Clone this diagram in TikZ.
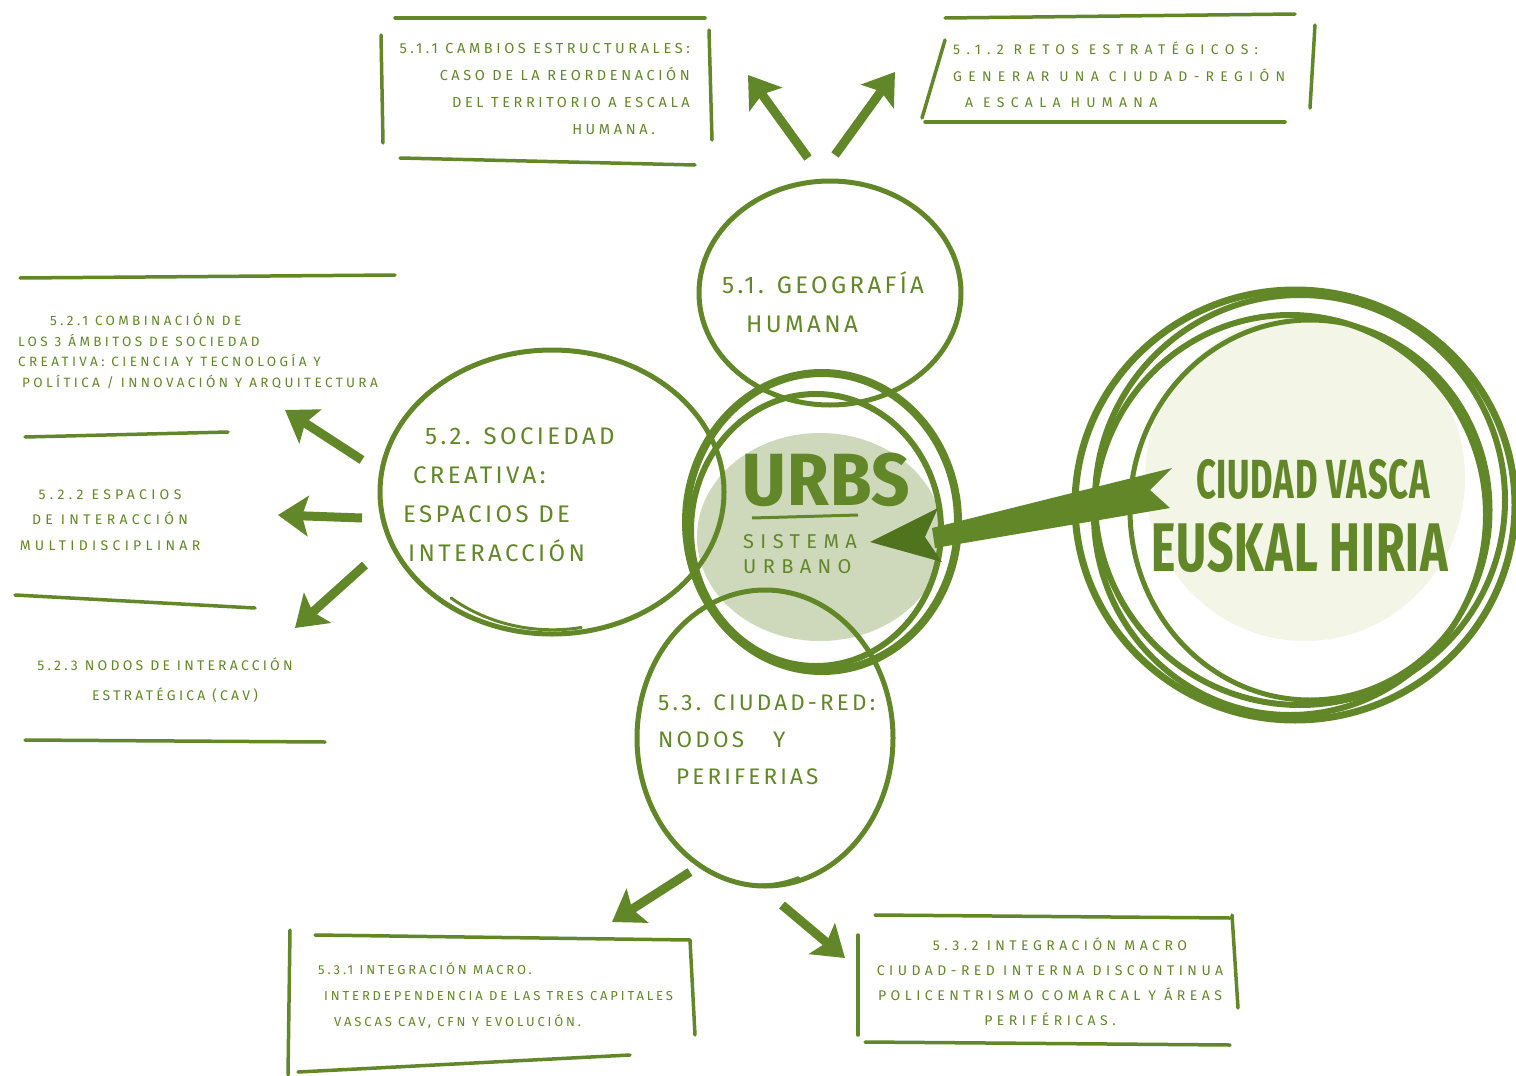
\documentclass[tikz,border=0pt]{standalone}
\usepackage{fontspec}
\setmainfont{Fira Sans}
\newfontfamily\handfont[LetterSpace=22]{Fira Sans}
\newfontfamily\handA[LetterSpace=25]{Fira Sans}
\newfontfamily\handB[LetterSpace=45]{Fira Sans}
\newfontfamily\handC[LetterSpace=31]{Fira Sans}
\newfontfamily\handD[LetterSpace=23]{Fira Sans}
\newfontfamily\handE[LetterSpace=32]{Fira Sans}
\newfontfamily\midfont[LetterSpace=14]{Fira Sans}
\newfontfamily\bigfont[LetterSpace=2]{Fira Sans Condensed}
\usetikzlibrary{arrows.meta,shapes.geometric}
\definecolor{gr}{RGB}{98,135,40}
\definecolor{grd}{RGB}{80,115,30}
\definecolor{grfill}{RGB}{206,217,188}
\definecolor{grpale}{RGB}{243,246,230}
\begin{document}
\begin{tikzpicture}[x=1pt,y=-1pt,
  every node/.style={text=gr},
  small/.style={font=\handfont\fontsize{13.5}{27}\selectfont, inner sep=0pt},
  mid/.style={font=\midfont\fontsize{24}{39}\selectfont, inner sep=0pt},
  ring/.style={draw=gr, line width=5pt, ellipse, inner sep=0pt},
  sketch/.style={draw=gr, line width=3.5pt, line cap=round},
  bigarrow/.style={draw=gr, line width=9pt, -{Stealth[length=30pt,width=40pt,inset=6pt]}},
]
\useasboundingbox (0,0) rectangle (1516,1076);
\fill[white] (0,0) rectangle (1516,1076);

% fills
\fill[grfill] (820,537) ellipse [x radius=123, y radius=104];
\fill[grpale] (1305,478) ellipse [x radius=160, y radius=163];

% circles
\node[ring, minimum width=262pt, minimum height=224pt] (c51) at (830,293) {};
\node[ring, minimum width=344pt, minimum height=284pt] (c52) at (552,492) {};
\draw[gr, line width=3pt, line cap=round] (451,598) arc[start angle=128, end angle=80, x radius=165, y radius=150];
\node[ring, minimum width=256pt, minimum height=296pt] (c53) at (765,738) {};
\draw[gr, line width=3pt, line cap=round] (717,876) arc[start angle=110, end angle=72, x radius=125, y radius=150];
\node[ring, line width=8pt, minimum width=272pt, minimum height=298pt] (urbs) at (822,522) {};
\draw[gr, line width=6pt] (816,530) ellipse [x radius=125, y radius=136];
\node[ring, line width=7pt, minimum width=440pt, minimum height=430pt] (eus) at (1295,505) {};
\draw[gr, line width=6pt] (1300,500) ellipse [x radius=205, y radius=205];
\draw[gr, line width=6pt] (1290,515) ellipse [x radius=196, y radius=200];
\draw[gr, line width=5pt] (1310,510) ellipse [x radius=180, y radius=190];

% circle texts
\node[mid, align=left, anchor=west] (t51) at (722,302) {5.1. GEOGRAFÍA\\\hspace*{24pt}HUMANA};
\node[mid, align=left, anchor=west] (t52) at (403,495) {\hspace*{22pt}5.2. SOCIEDAD\\\hspace*{10pt}CREATIVA:\\ESPACIOS DE\\\hspace*{5pt}INTERACCIÓN};
\node[mid, font=\midfont\fontsize{22.5}{37}\selectfont, align=left, anchor=west] (t53) at (658,740) {5.3. CIUDAD-RED:\\NODOS \hspace*{20pt}Y\\\hspace*{18pt}PERIFERIAS};
\node[font=\bigfont\bfseries\fontsize{74}{74}\selectfont, inner sep=0pt] (turbs) at (826,480) {URBS};
\coordinate (ul1) at (752,518);
\coordinate (ul2) at (858,515);
\draw[gr, line width=3pt] (ul1) -- (ul2);
\node[font=\handE\fontsize{20}{25}\selectfont, align=left, anchor=west, inner sep=0pt] (tsis) at (743,554) {SISTEMA\\URBANO};
\node[font=\bigfont\bfseries\fontsize{38}{38}\selectfont, inner sep=0pt] (tcv) at (1313,479) {\scalebox{1}[1.45]{CIUDAD VASCA}};
\node[font=\bigfont\bfseries\fontsize{51}{51}\selectfont, inner sep=0pt] (teh) at (1300,548) {\scalebox{1}[1.35]{EUSKAL HIRIA}};

% box 5.1.1
\draw[sketch] (395,18) -- (705,18);
\draw[sketch] (381,35) -- (383,143);
\draw[sketch] (709,30) -- (712,140);
\draw[sketch] (400,158) -- (695,165);
\node[small, font=\handA\fontsize{14.5}{27}\selectfont, align=right, anchor=east] (b511) at (690,89) {5.1.1 CAMBIOS ESTRUCTURALES:\\CASO DE LA REORDENACIÓN\\DEL TERRITORIO A ESCALA\\HUMANA.\hspace*{35pt}};

% box 5.1.2
\draw[sketch] (945,18) -- (1295,14);
\draw[sketch] (945,40) -- (922,118);
\draw[sketch] (1315,25) -- (1310,108);
\draw[sketch] (925,122) -- (1285,122);
\node[small, font=\handB\fontsize{14}{26.5}\selectfont, align=left, anchor=west] (b512) at (953,75) {5.1.2 RETOS ESTRATÉGICOS:\\GENERAR UNA CIUDAD-REGIÓN\\\hspace*{12pt}A ESCALA HUMANA};

% 5.2.1
\draw[sketch] (20,278) -- (395,275);
\draw[sketch] (25,437) -- (228,432);
\node[small, font=\handA\fontsize{13.5}{20.5}\selectfont, align=left, anchor=west] (b521) at (18,351) {\hspace*{32pt}5.2.1 COMBINACIÓN DE\\LOS 3 ÁMBITOS DE SOCIEDAD\\CREATIVA: CIENCIA Y TECNOLOGÍA Y\\\hspace*{4pt}POLÍTICA / INNOVACIÓN Y ARQUITECTURA};

% 5.2.2
\draw[sketch] (15,595) -- (255,608);
\node[small, font=\handC\fontsize{14}{25.5}\selectfont, align=center] (b522) at (110,520) {5.2.2 ESPACIOS\\DE INTERACCIÓN\\MULTIDISCIPLINAR};

% 5.2.3
\draw[sketch] (25,740) -- (325,742);
\node[small, font=\handD\fontsize{14}{30}\selectfont, align=center] (b523) at (165,680) {5.2.3 NODOS DE INTERACCIÓN\\\hspace*{20pt}ESTRATÉGICA (CAV)};

% box 5.3.1
\draw[sketch] (315,935) -- (690,940);
\draw[sketch] (290,930) -- (288,1075);
\draw[sketch] (690,940) -- (695,1035);
\draw[sketch] (298,1072) -- (630,1055);
\node[small, font=\handfont\fontsize{13}{26}\selectfont, align=left, anchor=west] (b531) at (318,996) {5.3.1 INTEGRACIÓN MACRO.\\\hspace*{6pt}INTERDEPENDENCIA DE LAS TRES CAPITALES\\\hspace*{16pt}VASCAS CAV, CFN Y EVOLUCIÓN.};

% box 5.3.2
\draw[sketch] (875,915) -- (1230,918);
\draw[sketch] (858,935) -- (858,1035);
\draw[sketch] (1232,915) -- (1238,1008);
\draw[sketch] (865,1042) -- (1230,1045);
\node[small, font=\handE\fontsize{14}{25}\selectfont, align=center] (b532) at (1050,982) {\hspace*{20pt}5.3.2 INTEGRACIÓN MACRO\\CIUDAD-RED INTERNA DISCONTINUA\\POLICENTRISMO COMARCAL Y ÁREAS\\PERIFÉRICAS.};

% arrows
\coordinate (a1s) at (808,158); \coordinate (a1e) at (748,75);
\coordinate (a2s) at (835,155); \coordinate (a2e) at (895,72);
\coordinate (a3s) at (362,460); \coordinate (a3e) at (285,410);
\coordinate (a4s) at (362,518); \coordinate (a4e) at (278,515);
\coordinate (a5s) at (365,565); \coordinate (a5e) at (295,628);
\coordinate (a6s) at (690,872); \coordinate (a6e) at (612,922);
\coordinate (a7s) at (782,905); \coordinate (a7e) at (845,958);
\draw[bigarrow] (a1s) -- (a1e);
\draw[bigarrow] (a2s) -- (a2e);
\draw[bigarrow] (a3s) -- (a3e);
\draw[bigarrow] (a4s) -- (a4e);
\draw[bigarrow] (a5s) -- (a5e);
\draw[bigarrow] (a6s) -- (a6e);
\draw[bigarrow] (a7s) -- (a7e);

% main arrow
\coordinate (m1) at (1172,468);
\coordinate (m2) at (1170,508);
\coordinate (m3) at (935,548);
\coordinate (m4) at (932,528);
\fill[gr] (m1) -- (1150,490) -- (m2) -- (m3) -- (m4) -- cycle;
\coordinate (h1) at (938,508);
\coordinate (h2) at (870,542);
\coordinate (h3) at (942,562);
\fill[grd] (h1) -- (h2) -- (h3) -- (925,537) -- cycle;
\end{tikzpicture}
\end{document}
